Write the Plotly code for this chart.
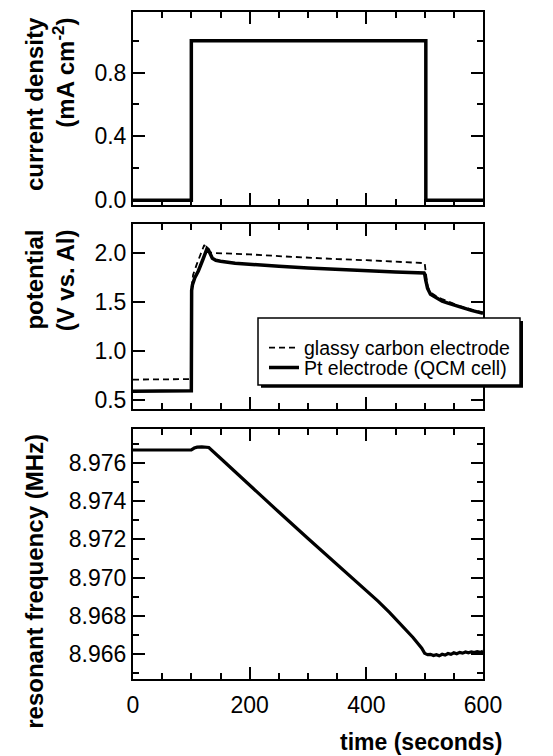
import plotly.graph_objects as go

# ---------------- data ----------------
time_current = [0, 100, 100, 502, 502, 600]
current_density = [0.0, 0.0, 1.0, 1.0, 0.0, 0.0]

time_pt = [0, 99.5, 100, 100.5, 102, 106, 112, 120, 127, 129, 132, 136, 142, 150,
           175, 200, 250, 300, 350, 400, 450, 499, 500, 502, 505, 510, 520, 530,
           540, 560, 580, 600]
potential_pt = [0.585, 0.585, 0.59, 1.62, 1.68, 1.75, 1.82, 1.94, 2.05, 2.04, 1.99,
                1.95, 1.93, 1.92, 1.90, 1.888, 1.868, 1.85, 1.835, 1.82, 1.808,
                1.80, 1.79, 1.72, 1.64, 1.58, 1.54, 1.51, 1.49, 1.45, 1.415, 1.385]

time_gc = [0, 99.5, 100, 100.5, 103, 110, 117, 122, 125, 129, 135, 150, 200, 250,
           300, 350, 400, 450, 499, 500, 502, 505, 510, 520, 530, 540, 560, 580, 600]
potential_gc = [0.705, 0.705, 0.71, 1.65, 1.78, 1.90, 2.01, 2.085, 2.06, 2.02, 2.005,
                2.003, 1.99, 1.972, 1.955, 1.942, 1.93, 1.918, 1.905, 1.90, 1.80,
                1.66, 1.60, 1.56, 1.53, 1.505, 1.46, 1.425, 1.395]

time_freq = [0, 25, 50, 75, 100, 105, 110, 118, 125, 130, 150, 200, 250, 300, 350,
             400, 420, 440, 460, 480, 495, 500, 505, 510, 515, 520, 525, 530, 535,
             540, 545, 550, 555, 560, 565, 570, 575, 580, 585, 590, 595, 600]
freq_mhz = [8.97667, 8.97667, 8.97667, 8.97668, 8.97668, 8.97677, 8.97682, 8.97683,
            8.97683, 8.97680, 8.97624, 8.97482, 8.97343, 8.97205, 8.97070, 8.96935,
            8.96878, 8.96818, 8.96755, 8.96688, 8.96632, 8.96605, 8.96598, 8.96600,
            8.96594, 8.96598, 8.96592, 8.96600, 8.96596, 8.96604, 8.96600, 8.96608,
            8.96603, 8.96610, 8.96606, 8.96612, 8.96608, 8.96613, 8.96609, 8.96614,
            8.96610, 8.96616]

x_range = [0, 600]
current_range = [-0.033, 1.18]
potential_range = [0.405, 2.298]
freq_range = [8.96471, 8.97778]

# ---------------- layout geometry ----------------
W, H = 553, 756
ML, MR, MT, MB = 133, 70, 10, 77
PW, PH = W - ML - MR, H - MT - MB


def py(p):  # pixel row -> paper y
    return (H - MB - p) / PH


def px(p):  # pixel column -> paper x
    return (p - ML) / PW


dom_top = [py(204), 1.0]
dom_mid = [py(408), py(223)]
dom_bot = [0.0, py(428)]

FONT = "Liberation Sans, Arial, Helvetica, sans-serif"

fig = go.Figure()

fig.add_trace(go.Scatter(x=time_current, y=current_density, mode="lines",
                         line=dict(color="black", width=3.5), showlegend=False,
                         xaxis="x", yaxis="y"))
fig.add_trace(go.Scatter(x=time_gc, y=potential_gc, mode="lines",
                         name="glassy carbon electrode", legend="legend",
                         line=dict(color="black", width=1.8, dash="6px,4px"),
                         xaxis="x2", yaxis="y2"))
fig.add_trace(go.Scatter(x=time_pt, y=potential_pt, mode="lines",
                         name="Pt electrode (QCM cell)", legend="legend2",
                         line=dict(color="black", width=3.5),
                         xaxis="x2", yaxis="y2"))
fig.add_trace(go.Scatter(x=time_freq, y=freq_mhz, mode="lines",
                         line=dict(color="black", width=3.2), showlegend=False,
                         xaxis="x3", yaxis="y3"))


def ax(**kw):
    d = dict(showline=True, linecolor="black", linewidth=2, mirror="ticks",
             ticks="inside", ticklen=12, tickwidth=2, tickcolor="black",
             showgrid=False, zeroline=False,
             tickfont=dict(family=FONT, size=23, color="black"))
    d.update(kw)
    return d


xcommon = dict(range=x_range, tick0=0, dtick=200,
               minor=dict(ticks="inside", ticklen=6, tickwidth=2, tickcolor="black",
                          dtick=50, tick0=0, showgrid=False))

leg_common = dict(xanchor="left", yanchor="middle", bgcolor="rgba(0,0,0,0)",
                  borderwidth=0, font=dict(family=FONT, size=19.5, color="black"),
                  itemwidth=30)

fig.update_layout(
    width=W, height=H,
    margin=dict(l=ML, r=MR, t=MT, b=MB),
    paper_bgcolor="white", plot_bgcolor="white",
    font=dict(family=FONT, color="black"),
    xaxis=ax(domain=[0, 1], anchor="y", showticklabels=False, **xcommon),
    xaxis2=ax(domain=[0, 1], anchor="y2", showticklabels=False, **xcommon),
    xaxis3=ax(domain=[0, 1], anchor="y3", showticklabels=True,
              ticklabelstandoff=4, **xcommon),
    yaxis=ax(domain=dom_top, anchor="x", range=current_range, tick0=0, dtick=0.4,
             tickformat=".1f",
             minor=dict(ticks="inside", ticklen=6, tickwidth=2, tickcolor="black",
                        dtick=0.2, tick0=0, showgrid=False)),
    yaxis2=ax(domain=dom_mid, anchor="x2", range=potential_range, tick0=0.5,
              dtick=0.5, tickformat=".1f"),
    yaxis3=ax(domain=dom_bot, anchor="x3", range=freq_range, tick0=8.966,
              dtick=0.002, tickformat=".3f",
              minor=dict(ticks="inside", ticklen=6, tickwidth=2, tickcolor="black",
                         dtick=0.001, tick0=8.966, showgrid=False)),
    legend=dict(x=px(264), y=py(347), **leg_common),
    legend2=dict(x=px(264), y=py(367), **leg_common),
)

title_font = dict(family=FONT, size=24, color="black")
title_x = px(19)
fig.add_annotation(text="<b>current density<br>(mA cm<sup>-2</sup>)</b>",
                   xref="paper", yref="paper", x=title_x, y=dom_top[1],
                   xanchor="left", yanchor="top", yshift=-3, textangle=-90,
                   align="right", showarrow=False, font=title_font)
fig.add_annotation(text="<b>potential<br>(V vs. Al)</b>", xref="paper",
                   yref="paper", x=title_x, y=dom_mid[1], xanchor="left",
                   yanchor="top", yshift=-3, textangle=-90, align="right",
                   showarrow=False, font=title_font)
fig.add_annotation(text="<b>resonant frequency (MHz)</b>", xref="paper",
                   yref="paper", x=title_x, y=dom_bot[1], xanchor="left",
                   yanchor="top", yshift=-3, textangle=-90, align="right",
                   showarrow=False, font=title_font)
fig.add_annotation(text="<b>time (seconds)</b>", xref="paper", yref="paper",
                   x=px(504), y=py(742), xanchor="right", yanchor="middle",
                   showarrow=False, font=dict(family=FONT, size=23, color="black"))

# legend frame with drop shadow
fig.add_shape(type="rect", xref="paper", yref="paper",
              x0=px(261), x1=px(523), y0=py(387), y1=py(320),
              fillcolor="black", line=dict(width=0), layer="above")
fig.add_shape(type="rect", xref="paper", yref="paper",
              x0=px(258), x1=px(520), y0=py(384), y1=py(317),
              fillcolor="white", line=dict(color="black", width=1.5), layer="above")

fig.write_html("out.html")
